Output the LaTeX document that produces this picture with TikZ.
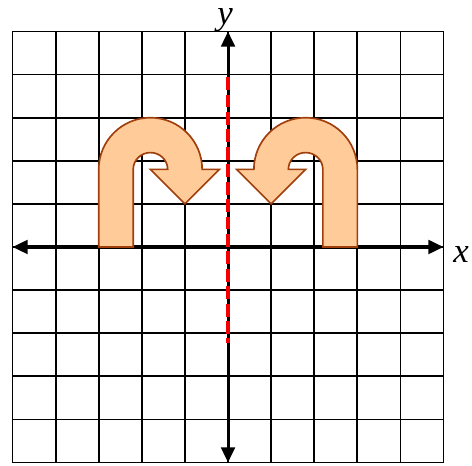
\documentclass[tikz,border=0pt]{standalone}
\usepackage{fontspec}
\setmainfont{Liberation Serif}
\usetikzlibrary{arrows.meta}
\definecolor{uturnfill}{RGB}{255,204,153}
\definecolor{uturnedge}{RGB}{160,62,12}
\definecolor{axisred}{RGB}{245,0,0}
\tikzset{
  gridline/.style={line width=1.2pt, black},
  axisline/.style={line width=2pt, black, {Triangle[length=10pt,width=9pt]}-{Triangle[length=10pt,width=9pt]}},
  mirrorline/.style={line width=2.2pt, axisred, dash pattern=on 8.5pt off 3pt},
  uturn/.style={fill=uturnfill, draw=uturnedge, line width=1.1pt, line join=miter},
  axislabel/.style={font=\itshape\fontsize{23}{23}\selectfont, inner sep=0pt}
}
\begin{document}
\begin{tikzpicture}[x=1cm,y=1cm]
\useasboundingbox (-5.29,-5.06) rectangle (5.66,5.73);
\draw[gridline] (-5,-5) grid (5,5);
\coordinate (xl) at (-5,0);
\coordinate (xr) at (5,0);
\coordinate (yb) at (0,-5);
\coordinate (yt) at (0,5);
\draw[axisline] (xl) -- (xr);
\draw[axisline] (yb) -- (yt);
\coordinate (rtop) at (0,3.94);
\coordinate (rbot) at (0,-2.23);
\draw[mirrorline] (rtop) -- (rbot);
% left U-turn arrow
\draw[uturn] (-3,0) -- (-3,1.8) arc[start angle=180,end angle=0,x radius=1.2,y radius=1.2]
  -- (-0.2,1.8) -- (-1.0,1.0) -- (-1.8,1.8) -- (-1.4,1.8)
  arc[start angle=0,end angle=180,x radius=0.4,y radius=0.39] -- (-2.2,0) -- cycle;
% right U-turn arrow (mirror image)
\draw[uturn] (3,0) -- (3,1.8) arc[start angle=0,end angle=180,x radius=1.2,y radius=1.2]
  -- (0.2,1.8) -- (1.0,1.0) -- (1.8,1.8) -- (1.4,1.8)
  arc[start angle=180,end angle=0,x radius=0.4,y radius=0.39] -- (2.2,0) -- cycle;
\node[axislabel, anchor=base] (ylab) at (-0.07,5.16) {y};
\node[axislabel, anchor=base] (xlab) at (5.41,-0.37) {x};
\end{tikzpicture}
\end{document}
